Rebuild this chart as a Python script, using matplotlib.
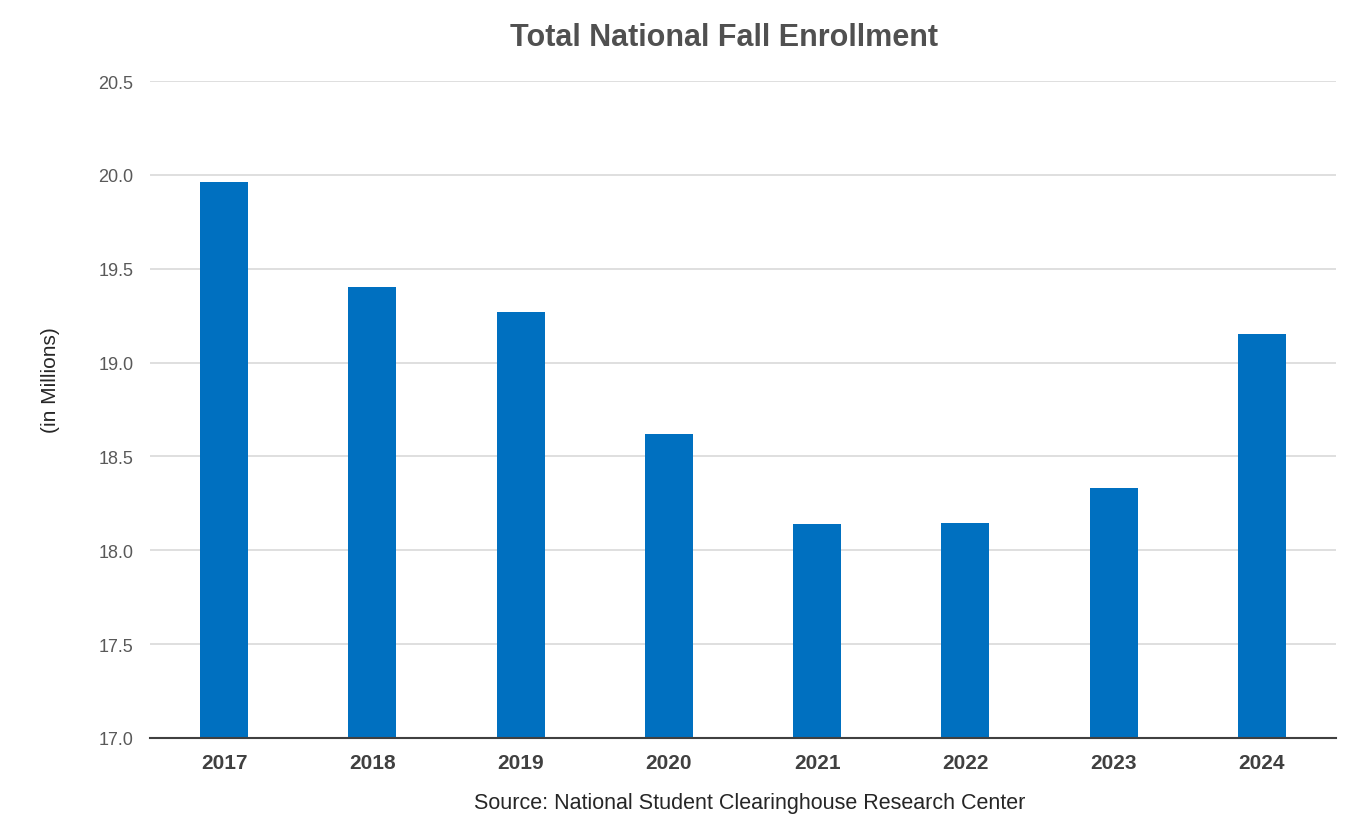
import matplotlib
matplotlib.use("Agg")
import matplotlib.pyplot as plt

years = ["2017", "2018", "2019", "2020", "2021", "2022", "2023", "2024"]
enrollment = [19.96, 19.40, 19.27, 18.62, 18.14, 18.145, 18.33, 19.15]
yticks = [17.0, 17.5, 18.0, 18.5, 19.0, 19.5, 20.0, 20.5]

plt.rcParams['font.family'] = ['Liberation Sans', 'DejaVu Sans']

fig = plt.figure(figsize=(13.51, 8.29), dpi=100)
ax = fig.add_axes([150/1351, 1 - 739/829, (1336-150)/1351, (739-82)/829])

x = list(range(len(years)))
ax.bar(x, enrollment, width=0.325, color="#0070C0", bottom=0, zorder=3)
ax.set_xlim(-0.5, len(years) - 0.5)
ax.set_ylim(17.0, 20.5)
ax.set_yticks(yticks)
ax.set_yticklabels([f"{v:.1f}" for v in yticks], fontsize=13, color="#595959")
ax.set_xticks(x)
ax.set_xticklabels(years, fontsize=15, fontweight="bold", color="#404040")
ax.tick_params(axis="y", length=0, pad=12)
ax.tick_params(axis="x", length=0, pad=11)
ax.grid(axis="y", color="#D9D9D9", linewidth=1.2, zorder=0)
for s in ["top", "right", "left"]:
    ax.spines[s].set_visible(False)
ax.spines["bottom"].set_color("#404040")
ax.spines["bottom"].set_linewidth(1.5)
ax.spines["bottom"].set_zorder(4)

fig.text(724/1351, 1 - 38/829, "Total National Fall Enrollment", ha="center", va="center",
         fontsize=22, fontweight="bold", color="#505050")
fig.text(750/1351, 1 - 804/829, "Source: National Student Clearinghouse Research Center",
         ha="center", va="center", fontsize=15.5, color="#262626")
fig.text(51/1351, 1 - 380/829, "(in Millions)", rotation=90, ha="center", va="center",
         fontsize=15, color="#262626")

fig.savefig("out.png", dpi=100, facecolor="white")
